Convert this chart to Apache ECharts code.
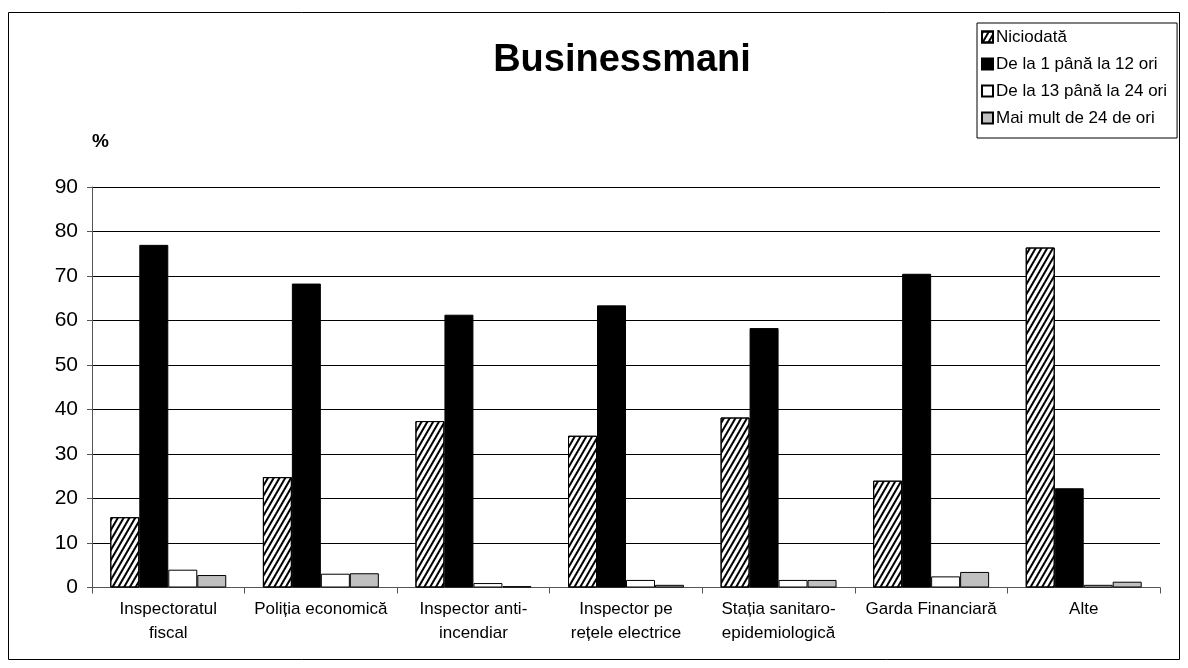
<!DOCTYPE html>
<html>
<head>
<meta charset="utf-8">
<script src="https://cdn.jsdelivr.net/npm/echarts@6/dist/echarts.min.js"></script>
<style>
html,body{margin:0;padding:0;background:#fff;}
#chart{width:1188px;height:668px;}
</style>
</head>
<body>
<div id="chart"></div>
<script>
const categories = ["Inspectoratul\nfiscal", "Poliția economică", "Inspector anti-\nincendiar", "Inspector pe\nrețele electrice", "Stația sanitaro-\nepidemiologică", "Garda Financiară", "Alte"];
const niciodata = [15.8, 24.8, 37.4, 34.1, 38.2, 24.0, 76.4];
const de1la12 = [77.0, 68.3, 61.3, 63.4, 58.3, 70.5, 22.3];
const de13la24 = [4.0, 3.1, 1.0, 1.7, 1.7, 2.5, 0.6];
const peste24 = [2.8, 3.2, 0.3, 0.6, 1.7, 3.5, 1.3];
const seriesNames = ["Niciodată", "De la 1 până la 12 ori", "De la 13 până la 24 ori", "Mai mult de 24 de ori"];
const yTicks = [0, 10, 20, 30, 40, 50, 60, 70, 80, 90];

const chart = echarts.init(document.getElementById('chart'), null, {renderer: 'canvas'});
const FONT = 'Liberation Sans, Arial, sans-serif';
const border = {borderColor: '#000', borderWidth: 1};

const option = {
  animation: false,
  backgroundColor: '#fff',
  title: {
    text: 'Businessmani',
    left: 617, top: 37, textAlign: 'center',
    textStyle: {fontFamily: FONT, fontSize: 38, fontWeight: 'bold', color: '#000'}
  },
  graphic: [
    {type: 'rect', shape: {x: 8.5, y: 12.5, width: 1171, height: 647}, style: {fill: 'none', stroke: '#000', lineWidth: 1}, silent: true},
    {type: 'text', left: 92, top: 132, style: {text: '%', font: 'bold 19px ' + FONT, fill: '#000'}}
  ],
  legend: {
    orient: 'vertical',
    left: 977, top: 23,
    padding: [5, 10, 11, 4],
    itemGap: 9,
    itemWidth: 11, itemHeight: 11,
    borderColor: '#000', borderWidth: 1,
    backgroundColor: '#fff',
    icon: 'rect',
    textStyle: {fontFamily: FONT, fontSize: 17, color: '#000', lineHeight: 18, padding: [0, 0, 0, -2]},
    data: seriesNames
  },
  grid: {left: 92, right: 28, top: 187, bottom: 80.5, containLabel: false},
  xAxis: {
    type: 'category',
    data: categories,
    axisLine: {lineStyle: {color: '#555', width: 1}},
    axisTick: {show: true, length: 6, inside: false, lineStyle: {color: '#555'}},
    axisLabel: {fontFamily: FONT, fontSize: 17, color: '#000', lineHeight: 24, margin: 10, interval: 0}
  },
  yAxis: {
    type: 'value',
    min: 0, max: 90, interval: 10,
    axisLine: {show: true, lineStyle: {color: '#555', width: 1}},
    axisTick: {show: true, length: 5, lineStyle: {color: '#555'}},
    axisLabel: {fontFamily: FONT, fontSize: 21, color: '#000', margin: 14,
      formatter: v => yTicks.includes(v) ? String(v) : ''},
    splitLine: {show: true, lineStyle: {color: '#000', width: 1}}
  },
  series: [
    {name: seriesNames[0], type: 'bar', data: niciodata, barGap: '0%', barCategoryGap: '24%',
      itemStyle: Object.assign({color: '#fff', decal: {symbol: 'rect', color: '#000', dashArrayX: [1, 0], dashArrayY: [1.3, 2.2], rotation: -Math.PI / 3}}, border)},
    {name: seriesNames[1], type: 'bar', data: de1la12, barGap: '0%', barCategoryGap: '24%',
      itemStyle: Object.assign({color: '#000'}, border)},
    {name: seriesNames[2], type: 'bar', data: de13la24, barGap: '0%', barCategoryGap: '24%',
      itemStyle: Object.assign({color: '#fff'}, border)},
    {name: seriesNames[3], type: 'bar', data: peste24, barGap: '0%', barCategoryGap: '24%',
      itemStyle: Object.assign({color: '#c0c0c0'}, border)}
  ]
};
chart.setOption(option);
</script>
</body>
</html>
